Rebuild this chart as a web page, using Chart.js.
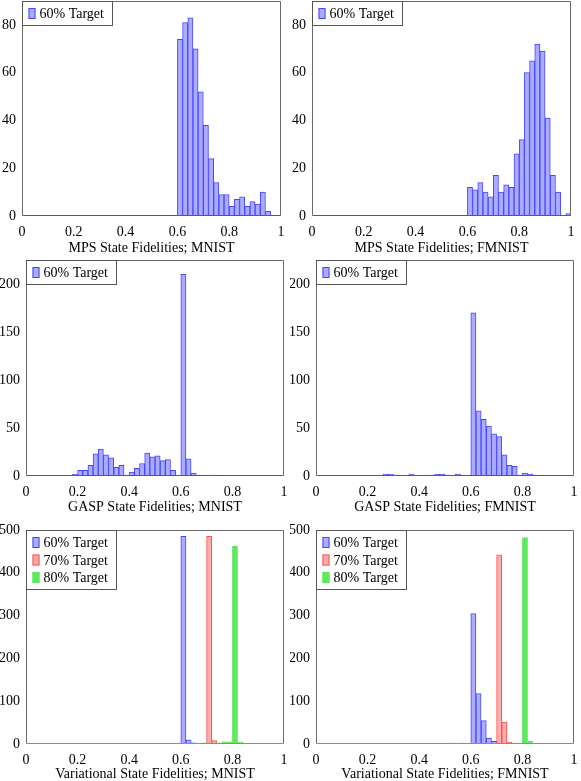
<!DOCTYPE html>
<html>
<head>
<meta charset="utf-8">
<script src="https://cdn.jsdelivr.net/npm/chart.js@4.4.1/dist/chart.umd.min.js"></script>
<style>
  html, body { margin: 0; padding: 0; background: #fff; }
  #wrap { position: relative; width: 581px; height: 781px; }
  .cell { position: absolute; width: 290px; }
</style>
</head>
<body>
<div id="wrap">
  <div class="cell" style="left:0;top:0;height:255px"><canvas id="c1"></canvas></div>
  <div class="cell" style="left:290px;top:0;height:255px"><canvas id="c2"></canvas></div>
  <div class="cell" style="left:0;top:255px;height:260px"><canvas id="c3"></canvas></div>
  <div class="cell" style="left:290px;top:255px;height:260px"><canvas id="c4"></canvas></div>
  <div class="cell" style="left:0;top:515px;height:266px"><canvas id="c5"></canvas></div>
  <div class="cell" style="left:290px;top:515px;height:266px"><canvas id="c6"></canvas></div>
</div>
<script>
// Histogram bins: 50 bins of width 0.02 on [0, 1]
const NBINS = 50;
const BIN_W = 0.02;
const xTicks = [0, 0.2, 0.4, 0.6, 0.8, 1];

// Counts per bin, each list starts at the given bin index
const mpsMnistStart = 30;
const mpsMnist = [74, 81, 83, 70, 52, 38, 24, 14, 9, 9, 4, 7, 8, 4, 6, 5, 10, 2];

const mpsFmnistStart = 30;
const mpsFmnist = [12, 11, 14, 10, 8, 17, 10, 13, 12, 26, 32, 60, 65, 72, 69, 41, 17, 10, 0, 1];

const gaspMnistStart = 9;
const gaspMnist = [2, 6, 6, 11, 23, 28, 22, 19, 9, 11, 1, 4, 8, 13, 24, 20, 21, 16, 17, 6, 0, 210, 18, 3, 1, 0, 0, 1];

const gaspFmnistStart = 13;
const gaspFmnist = [2, 2, 1, 0, 0, 2, 0, 0, 0, 1, 2, 2, 1, 0, 2, 1, 0, 170, 68, 59, 52, 44, 41, 22, 11, 10, 1, 3, 2, 1];

const varMnist60Start = 30;
const varMnist60 = [485, 10, 3, 1];
const varMnist70Start = 35;
const varMnist70 = [485, 8, 1];
const varMnist80Start = 31;
const varMnist80 = [1, 1, 1, 3, 3, 3, 3, 5, 5, 462, 4];

const varFmnist60Start = 26;
const varFmnist60 = [2, 0, 2, 0, 305, 118, 55, 14, 6];
const varFmnist70Start = 33;
const varFmnist70 = [1, 1, 442, 51, 4];
const varFmnist80Start = 29;
const varFmnist80 = [1, 1, 1, 1, 2, 2, 2, 2, 2, 2, 2, 482, 6];

const seriesLabels = ['60% Target', '70% Target', '80% Target'];

const FONT = "'Liberation Serif', 'Times New Roman', serif";
Chart.defaults.font.family = FONT;
Chart.defaults.color = '#000';

const styles = [
  { bg: 'rgb(172,172,255)', border: 'rgb(70,70,255)', order: 3 },
  { bg: 'rgb(255,172,172)', border: 'rgb(255,80,80)', order: 2 },
  { bg: 'rgb(85,238,85)', border: 'rgb(110,222,110)', order: 1 }
];

function histData(start, values) {
  const out = [];
  for (let k = 0; k < NBINS; k++) {
    const v = (k >= start && k < start + values.length) ? values[k - start] : 0;
    out.push({ x: BIN_W * k + BIN_W / 2, y: v });
  }
  return out;
}

function makeDataset(i, start, values) {
  return {
    label: seriesLabels[i],
    data: histData(start, values),
    backgroundColor: styles[i].bg,
    borderColor: styles[i].border,
    borderWidth: 1,
    borderSkipped: false,
    order: styles[i].order,
    grouped: false,
    barPercentage: 1,
    categoryPercentage: 1
  };
}

// frame around the plot area, bottom edge takes the zero-bin colour
const framePlugin = {
  id: 'frame',
  afterDatasetsDraw(chart, args, opts) {
    const a = chart.chartArea;
    const ctx = chart.ctx;
    const l = Math.round(a.left) + 0.5, r = Math.round(a.right) - 0.5;
    const t = Math.round(a.top) + 0.5, b = Math.round(a.bottom) - 0.5;
    ctx.save();
    ctx.lineWidth = 1;
    ctx.strokeStyle = '#6a6a6a';
    ctx.beginPath();
    ctx.moveTo(l, b); ctx.lineTo(l, t); ctx.lineTo(r, t); ctx.lineTo(r, b);
    ctx.stroke();
    ctx.strokeStyle = opts.baseColor || '#6a6a6a';
    ctx.beginPath();
    ctx.moveTo(l, b); ctx.lineTo(r, b);
    ctx.stroke();
    ctx.restore();
  }
};

// legend box in the upper left corner of the plot area
const boxLegendPlugin = {
  id: 'boxLegend',
  afterDraw(chart) {
    const a = chart.chartArea;
    const ctx = chart.ctx;
    const sets = chart.data.datasets;
    const rowH = 17.5;
    const x0 = Math.round(a.left) + 0.5;
    const y0 = Math.round(a.top) + 0.5;
    const w = 90, h = 24 + (sets.length - 1) * rowH;
    ctx.save();
    ctx.fillStyle = '#fff';
    ctx.strokeStyle = '#555';
    ctx.lineWidth = 1;
    ctx.fillRect(x0, y0, w, h);
    ctx.strokeRect(x0, y0, w, h);
    ctx.font = '14px ' + FONT;
    ctx.textBaseline = 'middle';
    sets.forEach((ds, i) => {
      const cy = y0 + 12 + i * rowH;
      ctx.fillStyle = ds.backgroundColor;
      ctx.fillRect(x0 + 6, cy - 5.5, 7, 11);
      ctx.strokeStyle = ds.borderColor;
      ctx.strokeRect(x0 + 6.5, cy - 5, 6, 10);
      ctx.fillStyle = '#000';
      ctx.fillText(ds.label, x0 + 17, cy + 1);
    });
    ctx.restore();
  }
};

function noPad(s) {
  s.paddingTop = 0;
  s.paddingBottom = 0;
  s.paddingLeft = 0;
  s.paddingRight = 0;
}

function makeChart(id, datasets, opt) {
  const el = document.getElementById(id);
  return new Chart(el, {
    type: 'bar',
    data: { datasets: datasets },
    options: {
      responsive: true,
      maintainAspectRatio: false,
      animation: false,
      layout: { padding: { top: opt.padTop, right: opt.padRight, left: 0, bottom: 0 } },
      plugins: {
        legend: { display: false },
        tooltip: { enabled: false },
        frame: { baseColor: opt.baseColor }
      },
      scales: {
        x: {
          type: 'linear',
          min: 0,
          max: 1,
          offset: false,
          grid: { display: false, drawTicks: false },
          border: { display: false },
          afterBuildTicks: s => { s.ticks = xTicks.map(v => ({ value: v })); },
          afterFit: s => { s.height = opt.axisH; noPad(s); },
          ticks: {
            padding: 8,
            maxRotation: 0,
            font: { size: 14 },
            callback: v => String(Number(v.toFixed(1)))
          },
          title: {
            display: true,
            text: opt.title,
            font: { size: 14 },
            padding: { top: 0, bottom: opt.titlePad }
          }
        },
        y: {
          min: 0,
          max: opt.yMax,
          grid: { display: false, drawTicks: false },
          border: { display: false },
          afterBuildTicks: s => { s.ticks = s.ticks.filter(t => t.value % opt.yStep === 0); },
          afterFit: s => { s.width = opt.yW; noPad(s); },
          ticks: { stepSize: opt.yStep, padding: 6, font: { size: 14 } }
        }
      }
    },
    plugins: [framePlugin, boxLegendPlugin]
  });
}

const blueLine = styles[0].border;

makeChart('c1', [makeDataset(0, mpsMnistStart, mpsMnist)],
  { title: 'MPS State Fidelities; MNIST', yMax: 90, yStep: 20, yW: 22, padTop: 1, padRight: 9, axisH: 39, titlePad: -2, baseColor: blueLine });
makeChart('c2', [makeDataset(0, mpsFmnistStart, mpsFmnist)],
  { title: 'MPS State Fidelities; FMNIST', yMax: 90, yStep: 20, yW: 22, padTop: 1, padRight: 9, axisH: 39, titlePad: -2, baseColor: blueLine });
makeChart('c3', [makeDataset(0, gaspMnistStart, gaspMnist)],
  { title: 'GASP State Fidelities; MNIST', yMax: 225, yStep: 50, yW: 26, padTop: 5, padRight: 6, axisH: 39, titlePad: -1, baseColor: blueLine });
makeChart('c4', [makeDataset(0, gaspFmnistStart, gaspFmnist)],
  { title: 'GASP State Fidelities; FMNIST', yMax: 225, yStep: 50, yW: 26, padTop: 5, padRight: 6, axisH: 39, titlePad: -1, baseColor: blueLine });
makeChart('c5', [
    makeDataset(0, varMnist60Start, varMnist60),
    makeDataset(1, varMnist70Start, varMnist70),
    makeDataset(2, varMnist80Start, varMnist80)
  ],
  { title: 'Variational State Fidelities; MNIST', yMax: 500, yStep: 100, yW: 26, padTop: 15, padRight: 6, axisH: 37, titlePad: -2, baseColor: '#7c9a7c' });
makeChart('c6', [
    makeDataset(0, varFmnist60Start, varFmnist60),
    makeDataset(1, varFmnist70Start, varFmnist70),
    makeDataset(2, varFmnist80Start, varFmnist80)
  ],
  { title: 'Variational State Fidelities; FMNIST', yMax: 500, yStep: 100, yW: 26, padTop: 15, padRight: 6, axisH: 37, titlePad: -2, baseColor: '#7c9a7c' });
</script>
</body>
</html>
